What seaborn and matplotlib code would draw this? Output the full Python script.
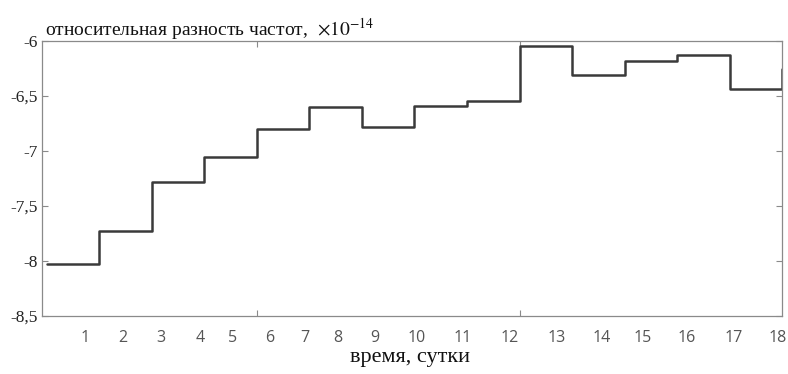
import matplotlib
matplotlib.use("Agg")
import matplotlib.pyplot as plt
import seaborn as sns
import pandas as pd

# value of each step (x1e-14), one per measurement interval
segment_values = [-8.03, -7.73, -7.28, -7.06, -6.80, -6.60, -6.78, -6.59,
                  -6.55, -6.05, -6.31, -6.18, -6.13, -6.44, -6.26]
step_index = list(range(len(segment_values)))

# day labels sit unevenly under the axis in the original
day_labels = [str(d) for d in range(1, 19)]
day_tick_pos = [0.72, 1.45, 2.17, 2.91, 3.54, 4.25, 4.91, 5.54, 6.25,
                7.05, 7.92, 8.82, 9.71, 10.57, 11.35, 12.19, 13.07, 13.92]

y_ticks = [-8.5, -8, -7.5, -7, -6.5, -6]
y_tick_labels = ["-8,5", "-8", "-7,5", "-7", "-6,5", "-6"]

sns.set_theme(style="white")
plt.rcParams['font.family'] = ['Liberation Serif', 'DejaVu Serif']
plt.rcParams['mathtext.fontset'] = 'stix'

df = pd.DataFrame({"step": step_index, "value": segment_values})

fig = plt.figure(figsize=(7.88, 3.74), dpi=100)
ax = fig.add_axes([0.0533, 0.155, 0.9391, 0.7361])

sns.lineplot(data=df, x="step", y="value", drawstyle="steps-post",
             color="#3a3a3a", linewidth=1.8, ax=ax)

ax.set_xlim(-0.095, 14.0)
ax.set_ylim(-8.5, -6)

for s in ax.spines.values():
    s.set_color("#8a8a8a")
    s.set_linewidth(0.9)

ax.set_yticks(y_ticks)
ax.set_yticklabels(y_tick_labels, fontsize=12.5, color="#222222")
ax.tick_params(axis="y", which="major", direction="in", length=4, width=0.8,
               color="#8a8a8a", left=True, right=True, pad=3)

ax.set_xticks([4, 9])
ax.set_xticklabels(["", ""])
ax.set_xticks(day_tick_pos, minor=True)
ax.set_xticklabels(day_labels, minor=True, fontsize=11.5, color="#555555",
                   family=["Open Sans", "DejaVu Sans"])
ax.tick_params(axis="x", which="major", direction="in", length=4, width=0.8,
               color="#8a8a8a", bottom=True, top=True)
ax.tick_params(axis="x", which="minor", length=0, pad=10, bottom=True)

ax.set_xlabel("время, сутки", fontsize=16, color="#111111")
ax.set_ylabel("")
ax.xaxis.set_label_coords(0.497, -0.115)

fig.text(0.057, 0.905, r"относительная разность частот,  $\times10^{-14}$",
         fontsize=14, color="#111111", ha="left", va="baseline")

fig.savefig("out.png", dpi=100)
